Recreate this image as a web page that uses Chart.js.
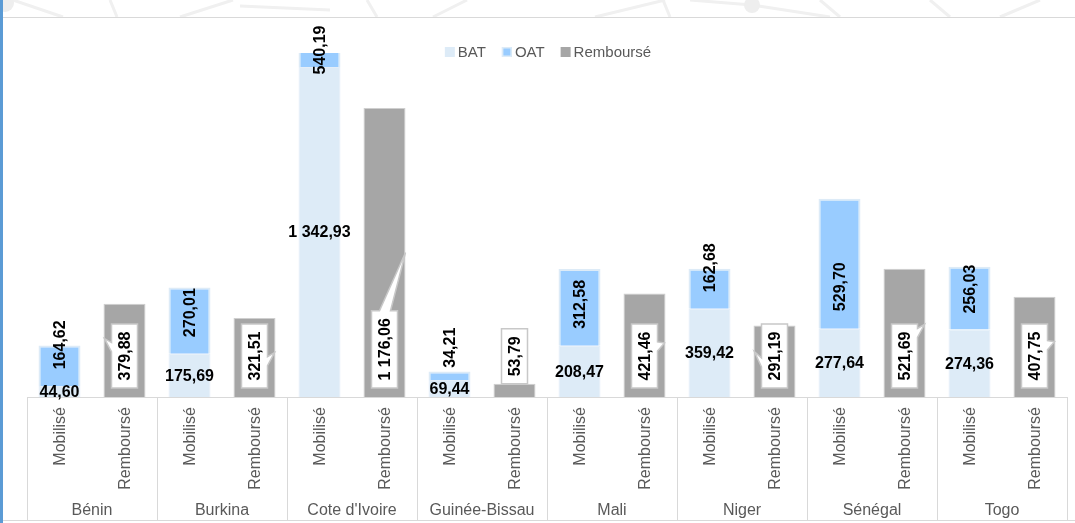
<!DOCTYPE html>
<html><head><meta charset="utf-8">
<script src="https://cdn.jsdelivr.net/npm/chart.js@4/dist/chart.umd.min.js"></script>
<style>html,body{margin:0;padding:0;background:#fff;overflow:hidden}canvas{display:block}</style>
</head><body>
<canvas id="c" width="1075" height="523"></canvas>
<script>
// ---- data ----
const countries = ["Bénin","Burkina","Cote d'Ivoire","Guinée-Bissau","Mali","Niger","Sénégal","Togo"];
const barKinds = ["Mobilisé","Remboursé"];
const seriesNames = ["BAT","OAT","Remboursé"];
const batValues = [44.60,175.69,1342.93,69.44,208.47,359.42,277.64,274.36];
const oatValues = [164.62,270.01,540.19,34.21,312.58,162.68,529.70,256.03];
const rembValues = [379.88,321.51,1176.06,53.79,421.46,291.19,521.69,407.75];
const yMin = 0, yMax = 1400;

// ---- label placement (style only) ----
const oatLabelShift = [-21,-8,-10,-28,-3,-21,23,-9];
const calloutSide = ["left","right","top","none","right","left","right","right"];
const calloutNotch = [0.36,0.58,0,0,0.35,0.6,0.14,0.33];
const calloutTipDy = [-8,-8,0,0,-3,-10,-8,-3];

const colors = {bat:"#DDEBF7", oat:"#99CCFF", remb:"#A6A6A6"};
const FONT = "'Liberation Sans', Arial, sans-serif";

function fmt(v){
  let s = v.toFixed(2).split(".");
  let ip = s[0].replace(/\B(?=(\d{3})+(?!\d))/g, " ");
  return ip + "," + s[1];
}

const labels = countries.flatMap(c => barKinds.map(k => c + " " + k));
const batData = countries.flatMap((c,i) => [batValues[i], null]);
const oatData = countries.flatMap((c,i) => [oatValues[i], null]);
const rembData = countries.flatMap((c,i) => [null, rembValues[i]]);

const decoPlugin = {
  id:"deco",
  beforeDraw(chart){
    const ctx = chart.ctx;
    ctx.save();
    ctx.fillStyle = "#fff";
    ctx.fillRect(0,0,chart.width,chart.height);
    // faint network decoration at top
    ctx.strokeStyle = "#F0F0F0";
    ctx.lineWidth = 3;
    const segs = [[13,0,63,17],[110,0,117,17],[180,17,233,0],[240,6,330,10],[367,0,377,17],[433,17,467,0],
                  [595,17,665,0],[663,0,670,17],[752,5,830,17],[752,5,690,0],[820,0,840,17],[930,0,950,17],[1000,17,1040,0]];
    segs.forEach(s=>{ctx.beginPath();ctx.moveTo(s[0],s[1]);ctx.lineTo(s[2],s[3]);ctx.stroke();});
    ctx.fillStyle = "#EEEEEE";
    [[5,3,9],[752,5,8]].forEach(c=>{ctx.beginPath();ctx.arc(c[0],c[1],c[2],0,Math.PI*2);ctx.fill();});
    ctx.fillStyle = "#fff";
    ctx.fillRect(0,18,chart.width,chart.height-18);
    // top separator line
    ctx.strokeStyle = "#D9D9D9"; ctx.lineWidth = 1;
    ctx.beginPath(); ctx.moveTo(3,17.5); ctx.lineTo(chart.width,17.5); ctx.stroke();
    // left blue border
    ctx.fillStyle = "#5B9BD5";
    ctx.fillRect(0,0,3,chart.height);
    ctx.restore();
  },
  afterDatasetsDraw(chart){
    const ctx = chart.ctx, xs = chart.scales.x, ys = chart.scales.y, ca = chart.chartArea;
    const slot = xs.getPixelForValue(1) - xs.getPixelForValue(0);
    const base = ys.getPixelForValue(0);
    ctx.save();
    // axis lines
    ctx.strokeStyle = "#D9D9D9"; ctx.lineWidth = 1;
    ctx.beginPath(); ctx.moveTo(ca.left, Math.round(base)+0.5); ctx.lineTo(ca.right, Math.round(base)+0.5); ctx.stroke();
    for(let i=0;i<=countries.length;i++){
      const gx = Math.round(xs.getPixelForValue(2*i) - slot/2) + 0.5;
      ctx.beginPath(); ctx.moveTo(gx, base); ctx.lineTo(gx, 520); ctx.stroke();
    }
    ctx.beginPath(); ctx.moveTo(3,520.5); ctx.lineTo(chart.width,520.5); ctx.stroke();

    // category labels
    ctx.fillStyle = "#595959";
    ctx.font = "16px " + FONT;
    countries.forEach((c,i)=>{
      barKinds.forEach((k,j)=>{
        const cx = xs.getPixelForValue(2*i+j);
        ctx.save(); ctx.translate(cx, base+10); ctx.rotate(-Math.PI/2);
        ctx.textAlign = "right"; ctx.textBaseline = "middle";
        ctx.fillText(k, 0, 1); ctx.restore();
      });
      const gx = (xs.getPixelForValue(2*i) + xs.getPixelForValue(2*i+1))/2;
      ctx.textAlign = "center"; ctx.textBaseline = "middle";
      ctx.fillText(c, gx, 511);
    });

    // value labels
    const mBat = chart.getDatasetMeta(0), mOat = chart.getDatasetMeta(1), mRem = chart.getDatasetMeta(2);
    ctx.font = "bold 16px " + FONT;
    countries.forEach((c,i)=>{
      const eb = mBat.data[2*i], eo = mOat.data[2*i], er = mRem.data[2*i+1];
      // BAT horizontal
      ctx.fillStyle = "#000";
      ctx.textAlign = "center"; ctx.textBaseline = "middle";
      ctx.fillText(fmt(batValues[i]), eb.x, (eb.y + eb.base)/2 + 1);
      // OAT rotated
      const top = Math.max(eo.y, ca.top), bot = eo.base;
      ctx.save(); ctx.translate(eo.x, (top+bot)/2 + oatLabelShift[i]); ctx.rotate(-Math.PI/2);
      ctx.fillText(fmt(oatValues[i]), 0, 1); ctx.restore();
      // Remboursé callout
      const txt = fmt(rembValues[i]);
      const tw = ctx.measureText(txt).width;
      const w = 26, h = tw + 15;
      const b = (er.base - er.y < 30) ? er.y : base - 9;
      const t = b - h, l = er.x - w/2, r = er.x + w/2;
      const side = calloutSide[i], py = t + h*calloutNotch[i], wd = 9;
      ctx.beginPath();
      ctx.moveTo(l,t);
      if(side === "top"){
        const px1 = l + 8, px2 = l + 19;
        ctx.lineTo(px1,t); ctx.lineTo(er.x + er.width/2, (er.y + er.base)/2); ctx.lineTo(px2,t);
      }
      ctx.lineTo(r,t);
      if(side === "right"){
        ctx.lineTo(r, py - wd/2); ctx.lineTo(r+7, py + calloutTipDy[i] - wd/2 + 4); ctx.lineTo(r, py + wd/2);
      }
      ctx.lineTo(r,b); ctx.lineTo(l,b);
      if(side === "left"){
        ctx.lineTo(l, py + wd/2); ctx.lineTo(l-7, py + calloutTipDy[i] - wd/2 + 4); ctx.lineTo(l, py - wd/2);
      }
      ctx.closePath();
      ctx.fillStyle = "#fff"; ctx.fill();
      ctx.strokeStyle = "#C8C8C8"; ctx.lineWidth = 1.5; ctx.stroke();
      ctx.fillStyle = "#000";
      ctx.save(); ctx.translate(er.x, (t+b)/2); ctx.rotate(-Math.PI/2);
      ctx.textAlign = "center"; ctx.textBaseline = "middle";
      ctx.fillText(txt, 0, 1); ctx.restore();
    });

    // legend
    ctx.font = "15px " + FONT;
    const sw = [colors.bat, colors.oat, colors.remb];
    const items = seriesNames.map((n,k)=>({n, w: 10 + 3 + ctx.measureText(n).width}));
    const gap = 16;
    const total = items.reduce((a,it)=>a+it.w,0) + gap*(items.length-1);
    let lx = (ca.left + ca.right)/2 - total/2 + 1;
    const ly = 52;
    items.forEach((it,k)=>{
      ctx.fillStyle = sw[k]; ctx.fillRect(lx, ly-5, 10, 10);
      if(k===1){ctx.strokeStyle="#DDEBF7";ctx.lineWidth=1.5;ctx.strokeRect(lx+0.75,ly-4.25,8.5,8.5);}
      ctx.fillStyle = "#595959"; ctx.textAlign = "left"; ctx.textBaseline = "middle";
      ctx.fillText(it.n, lx + 13, ly + 1);
      lx += it.w + gap;
    });
    ctx.restore();
  }
};

new Chart(document.getElementById("c"), {
  type: "bar",
  data: {
    labels,
    datasets: [
      {label: seriesNames[0], data: batData, backgroundColor: colors.bat, borderColor: "#E4EEF8", borderWidth: 1},
      {label: seriesNames[1], data: oatData, backgroundColor: colors.oat, borderColor: "#DDEBF7", borderWidth: 2},
      {label: seriesNames[2], data: rembData, backgroundColor: colors.remb, borderColor: "#CFCFCF", borderWidth: 1}
    ]
  },
  options: {
    responsive: false, animation: false,
    devicePixelRatio: 1,
    layout: {padding: {left: 27, right: 8, top: 53, bottom: 126}},
    datasets: {bar: {categoryPercentage: 1, barPercentage: 0.646, skipNull: false}},
    scales: {
      x: {stacked: true, display: false},
      y: {stacked: true, display: false, min: yMin, max: yMax}
    },
    plugins: {legend: {display: false}, tooltip: {enabled: false}}
  },
  plugins: [decoPlugin]
});
</script>
</body></html>
